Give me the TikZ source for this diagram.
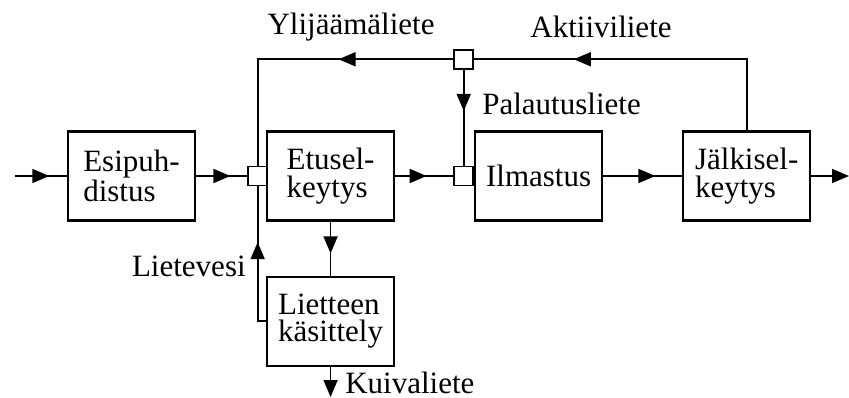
\documentclass[tikz,border=0pt]{standalone}
\usepackage{fontspec}
\setmainfont{Liberation Serif}
\usetikzlibrary{arrows.meta, positioning, decorations.markings}

\begin{document}
\begin{tikzpicture}[
			x=0.02cm, y=-0.02cm,
			font=\fontsize{0.62cm}{0.55cm}\selectfont,
			>={Triangle[length=3.4mm, width=2.8mm]},
			box/.style={rectangle, draw, line width=1.2pt,
				minimum width=2.54cm, minimum height=1.78cm,
				align=left, inner sep=0pt},
			junction/.style={rectangle, draw, line width=1pt, fill=white,
				minimum size=0.38cm, inner sep=0pt},
			lbl/.style={inner sep=0pt},
			flow/.style={line width=1pt, decoration={markings,
				mark=at position #1 with {\arrow{>}}}, postaction={decorate}},
			flowend/.style={line width=1pt, ->}
			]
			\useasboundingbox (0,0) rectangle (849,398);
			
			% main line
			\node[box] (esi) at (131.5,176) {Esipuh-\\distus};
			\node[box, right=1.4cm of esi] (etu) {Etusel-\\keytys};
			\node[box, right=1.58cm of etu] (ilm) {Ilmastus};
			\node[box, right=1.58cm of ilm] (jal) {Jälkisel-\\keytys};
			\node[box, below=1.08cm of etu] (lie) {Lietteen\\käsittely};
			
			% junctions
			\node[junction, left=-0.04cm of etu] (j1) {};
			\node[junction, left=0cm of ilm] (j2) {};
			\node[junction, above=1.92cm of j2] (j3) {};
			
			\coordinate (src) at (15,176);
			\coordinate (snk) at (849,176);
			\coordinate (dry) at (lie.south |- 0,397);
			
			% labels
			\node[lbl] (ylij) at (351,27) {Ylijäämäliete};
			\node[lbl] (akt) at (601,27) {Aktiiviliete};
			\node[lbl, anchor=west] (pal) at (482,104) {Palautusliete};
			\node[lbl, anchor=east] (ltv) at (246,266) {Lietevesi};
			\node[lbl, anchor=west] (kuiv) at (345,383) {Kuivaliete};
			
			\draw[flow=0.66] (src) -- (esi);
			\draw[flow=0.67] (esi) -- (j1);
			\draw[flow=0.54] (etu) -- (j2);
			\draw[flow=0.66] (ilm) -- (jal);
			\draw[flowend] (jal) -- (snk);
			\draw[flow=0.71] (jal.north) |- (j3.east);
			\draw[flow=0.38] (j3.west) -| (j1.north);
			\draw[flow=0.43] (j3) -- (j2);
			\draw[flow=0.59] (etu) -- (lie);
			\draw[flow=0.61] (lie.west) -| (j1.south);
			\draw[flowend] (lie) -- (dry);
		\end{tikzpicture}
\end{document}
